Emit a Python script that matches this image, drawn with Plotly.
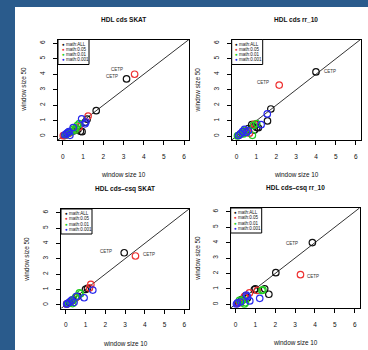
import plotly.graph_objects as go

# ---------------- data ----------------
ticks = [0, 1, 2, 3, 4, 5, 6]
series_names = ["math:ALL", "math:0.05", "math:0.01", "math:0.001"]
titles = ["HDL cds SKAT", "HDL cds rr_10", "HDL cds\u2013csq SKAT", "HDL cds\u2013csq rr_10"]
x_title = "window size 10"
y_title = "window size 50"
gene = "CETP"

# panel 1: HDL cds SKAT
p1_all_x = [3.15, 1.65, 1.2, 1.1, 0.87, 0.75, 0.55, 0.35, 0.2, 0.08, 0.95]
p1_all_y = [3.7, 1.65, 1.1, 0.9, 0.32, 0.45, 0.35, 0.25, 0.15, 0.05, 0.3]
p1_r05_x = [3.55, 1.25, 0.8, 0.6, 0.3, 0.1, 0.02]
p1_r05_y = [4.0, 1.3, 0.6, 0.4, 0.2, 0.05, 0.04]
p1_r01_x = [0.81, 0.72, 0.6, 0.5, 0.4, 0.25, 0.15, 0.65]
p1_r01_y = [0.82, 0.7, 0.39, 0.45, 0.3, 0.2, 0.1, 0.55]
p1_r001_x = [0.93, 1.14, 1.1, 0.51, 0.35, 0.18, 0.3, 0.1, 0.25]
p1_r001_y = [1.12, 0.92, 0.8, 0.56, 0.06, 0.17, 0.3, 0.1, 0.25]

# panel 2: HDL cds rr_10
p2_all_x = [4.0, 1.73, 1.56, 0.77, 0.99, 1.02, 0.9, 0.6, 0.45, 0.3, 1.1]
p2_all_y = [4.15, 1.76, 0.99, 0.75, 0.75, 0.56, 0.4, 0.5, 0.3, 0.2, 0.55]
p2_r05_x = [2.15, 0.9, 0.55, 0.4, 0.2, 0.1, 0.65]
p2_r05_y = [3.3, 0.78, 0.35, 0.3, 0.15, 0.05, 0.2]
p2_r01_x = [0.8, 1.02, 0.85, 0.45, 0.3, 0.15, 0.05, 0.35]
p2_r01_y = [0.06, 0.82, 0.7, 0.4, 0.25, 0.1, 0.02, 0.15]
p2_r001_x = [1.55, 1.24, 0.4, 0.3, 0.5, 0.2, 0.1, 0.6]
p2_r001_y = [1.44, 0.75, 0.45, 0.3, 0.25, 0.15, 0.05, 0.35]

# panel 3: HDL cds-csq SKAT
p3_all_x = [2.96, 1.1, 1.0, 0.6, 0.35, 0.2, 0.05]
p3_all_y = [3.39, 1.07, 1.0, 0.55, 0.3, 0.15, 0.05]
p3_r05_x = [3.53, 1.27, 1.2, 0.5, 0.25, 0.05]
p3_r05_y = [3.18, 1.33, 1.1, 0.45, 0.2, 0.05]
p3_r01_x = [0.69, 0.75, 0.4, 0.25, 0.35, 0.15, 0.5]
p3_r01_y = [0.78, 0.72, 0.35, 0.2, 0.08, 0.1, 0.5]
p3_r001_x = [1.37, 0.93, 0.42, 0.55, 0.3, 0.1, 0.05, 0.2]
p3_r001_y = [0.96, 0.46, 0.16, 0.55, 0.3, 0.1, 0.05, 0.2]

# panel 4: HDL cds-csq rr_10
p4_all_x = [3.87, 2.03, 1.0, 1.47, 1.68, 0.6, 0.3, 0.15, 0.5, 0.95]
p4_all_y = [4.0, 2.05, 1.0, 1.0, 0.65, 0.4, 0.3, 0.1, 0.55, 0.95]
p4_r05_x = [3.27, 1.1, 0.7, 0.2, 0.45, 0.1]
p4_r05_y = [1.92, 0.9, 0.74, 0.1, 0.5, 0.05]
p4_r01_x = [1.38, 1.33, 0.4, 0.3, 0.5, 0.45, 0.2]
p4_r01_y = [0.94, 0.9, 0.3, 0.2, 0.1, 0.02, 0.25]
p4_r001_x = [1.22, 0.72, 0.55, 0.6, 0.1, 0.05, 0.25]
p4_r001_y = [0.39, 0.22, 0.6, 0.5, 0.1, 0.02, 0.15]

# ---------------- style ----------------
W, H = 368, 350
FONT = "Liberation Sans, Arial, sans-serif"
colors = ["#111111", "#ee3333", "#22cc22", "#2a2aee"]
BG_BLUE = "#2a5b8c"
diag = [-1, 7]

panels = [
    dict(xs=[p1_all_x, p1_r05_x, p1_r01_x, p1_r001_x], ys=[p1_all_y, p1_r05_y, p1_r01_y, p1_r001_y],
         box=(58, 189, 39.5, 140),
         labels=[(0, 0, "right", -7, 2), (1, 0, "right", -10, 5)]),
    dict(xs=[p2_all_x, p2_r05_x, p2_r01_x, p2_r001_x], ys=[p2_all_y, p2_r05_y, p2_r01_y, p2_r001_y],
         box=(231.7, 360.5, 39.5, 140),
         labels=[(0, 0, "left", 6, 0), (1, 0, "right", -8, 3)]),
    dict(xs=[p3_all_x, p3_r05_x, p3_r01_x, p3_r001_x], ys=[p3_all_y, p3_r05_y, p3_r01_y, p3_r001_y],
         box=(61, 189, 209, 308.5),
         labels=[(0, 0, "right", -10, 1.5), (1, 0, "left", 6, 1.5)]),
    dict(xs=[p4_all_x, p4_r05_x, p4_r01_x, p4_r001_x], ys=[p4_all_y, p4_r05_y, p4_r01_y, p4_r001_y],
         box=(230.7, 359.5, 208, 308),
         labels=[(0, 0, "right", -12, -0.5), (1, 0, "left", 5, -1.5)]),
]

fig = go.Figure()
shapes = [dict(type="rect", xref="paper", yref="paper", x0=15 / W, x1=1, y0=0, y1=1 - 7 / H,
               fillcolor="white", line=dict(width=0), layer="below")]
annotations = []
layout_axes = {}

for i, p in enumerate(panels):
    n = "" if i == 0 else str(i + 1)
    xa, ya = "x" + n, "y" + n
    left, right, top, bottom = p["box"]
    axis_common = dict(range=[-0.24, 6.24], tickvals=ticks, ticks="outside", ticklen=4, tickwidth=1,
                       tickcolor="black", showline=True, linecolor="black", linewidth=1.2, mirror=True,
                       showgrid=False, zeroline=False,
                       tickfont=dict(family=FONT, size=6.5, color="#111111"), fixedrange=True)
    layout_axes["xaxis" + n] = dict(axis_common, domain=[left / W, right / W], anchor=ya,
                                    ticklabelstandoff=6)
    layout_axes["yaxis" + n] = dict(axis_common, domain=[1 - bottom / H, 1 - top / H], anchor=xa,
                                    tickangle=-90, ticklabelstandoff=5)

    fig.add_trace(go.Scatter(x=diag, y=diag, mode="lines", line=dict(color="#333333", width=1),
                             xaxis=xa, yaxis=ya, showlegend=False, hoverinfo="skip"))
    for k in range(4):
        fig.add_trace(go.Scatter(x=p["xs"][k], y=p["ys"][k], mode="markers", name=series_names[k],
                                 marker=dict(symbol="circle-open", size=6.5, color=colors[k],
                                             line=dict(width=1.2, color=colors[k])),
                                 xaxis=xa, yaxis=ya, showlegend=False))
    # gene labels
    for (ser, idx, side, dx, dy) in p["labels"]:
        annotations.append(dict(x=p["xs"][ser][idx], y=p["ys"][ser][idx], xref=xa, yref=ya,
                                text=gene, showarrow=False, xanchor=side, yanchor="middle",
                                xshift=dx, yshift=dy,
                                font=dict(family=FONT, size=4.5, color="#333333")))
    dx_ref, dy_ref = xa + " domain", ya + " domain"
    # title
    annotations.append(dict(x=0.5, y=1, xref=dx_ref, yref=dy_ref, text="<b>" + titles[i] + "</b>",
                            showarrow=False, xanchor="center", yanchor="middle", yshift=20.5,
                            font=dict(family=FONT, size=6.5, color="#111111")))
    # axis titles
    annotations.append(dict(x=0.5, y=0, xref=dx_ref, yref=dy_ref, text=x_title, showarrow=False,
                            xanchor="center", yanchor="middle", yshift=-34.5,
                            font=dict(family=FONT, size=6.4, color="#111111")))
    annotations.append(dict(x=0, y=0.5, xref=dx_ref, yref=dy_ref, text=y_title, showarrow=False,
                            xanchor="center", yanchor="middle", xshift=-34, textangle=-90,
                            font=dict(family=FONT, size=6.4, color="#111111")))
    # legend box
    bw = 31 / (right - left)
    bh = 25 / (bottom - top)
    shapes.append(dict(type="rect", xref=dx_ref, yref=dy_ref, x0=0, x1=bw, y0=1 - bh, y1=1,
                       line=dict(color="black", width=1), fillcolor="white"))
    for k in range(4):
        annotations.append(dict(x=0, y=1, xref=dx_ref, yref=dy_ref,
                                text=f"<span style='color:{colors[k]}'>\u25cf</span> {series_names[k]}",
                                showarrow=False, xanchor="left", yanchor="middle",
                                xshift=1.5, yshift=-(4.7 + 5.2 * k),
                                font=dict(family=FONT, size=4.5, color="#111111")))

fig.update_layout(width=W, height=H, margin=dict(l=0, r=0, t=0, b=0),
                  paper_bgcolor=BG_BLUE, plot_bgcolor="white", showlegend=False,
                  shapes=shapes, annotations=annotations, **layout_axes)

fig.write_html("out.html", config={"displayModeBar": False},
               post_script="document.body.style.margin='0px';document.body.style.overflow='hidden';")
